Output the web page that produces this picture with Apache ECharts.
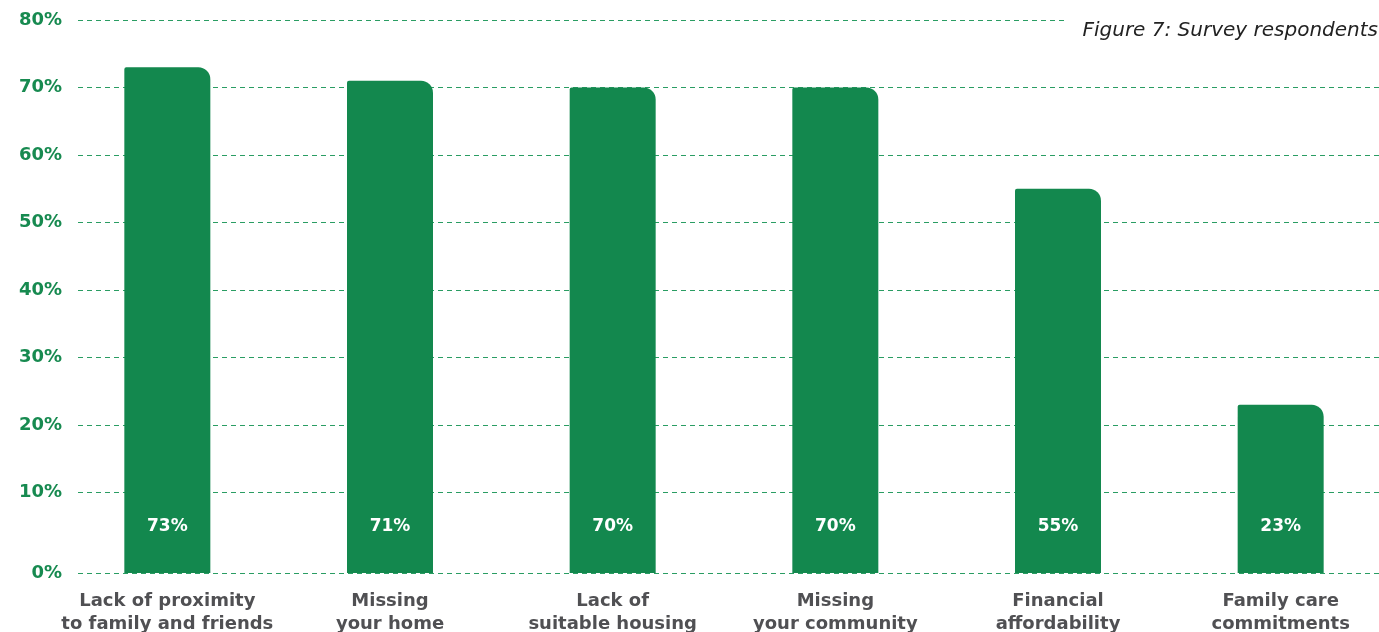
<!DOCTYPE html>
<html>
<head>
<meta charset="utf-8">
<script src="https://cdn.jsdelivr.net/npm/echarts@6/dist/echarts.min.js"></script>
<style>
html,body{margin:0;padding:0;background:#fff;}
#chart{width:1379px;height:632px;}
</style>
</head>
<body>
<div id="chart"></div>
<script>
const categories = ['Lack of proximity\nto family and friends', 'Missing\nyour home', 'Lack of\nsuitable housing', 'Missing\nyour community', 'Financial\naffordability', 'Family care\ncommitments'];
const values = [73, 71, 70, 70, 55, 23];
const gridTicks = [10, 20, 30, 40, 50, 60, 70, 80];
const titleText = 'Figure 7: Survey respondents';

const GREEN = '#13884e';
const AXIS_MIN = -1.93;

const lineData = [[{x: 78, yAxis: AXIS_MIN, name: '0%'}, {x: 1379, yAxis: AXIS_MIN}]].concat(
  gridTicks.map(v => [{x: 78, yAxis: v, name: v + '%'}, {x: 1379, yAxis: v}])
);

const chart = echarts.init(document.getElementById('chart'), null, {renderer: 'canvas'});
chart.setOption({
  animation: false,
  backgroundColor: '#ffffff',
  title: {
    text: titleText,
    right: 0,
    top: 19,
    padding: [2, 1, 2, 18],
    backgroundColor: '#ffffff',
    textStyle: {fontFamily: 'DejaVu Sans', fontStyle: 'italic', fontWeight: 'normal', fontSize: 20, color: '#222222'}
  },
  grid: {left: 56, width: 1336, top: 20, bottom: 59, containLabel: false, outerBoundsMode: 'none'},
  xAxis: {
    type: 'category',
    data: categories,
    axisLine: {show: false},
    axisTick: {show: false},
    axisLabel: {
      margin: 17,
      fontFamily: 'DejaVu Sans',
      fontWeight: 'bold',
      fontSize: 18,
      lineHeight: 23,
      color: '#505053',
      interval: 0
    }
  },
  yAxis: {
    type: 'value',
    min: AXIS_MIN,
    max: 80,
    startValue: AXIS_MIN,
    show: false,
    splitLine: {show: false}
  },
  series: [{
    type: 'bar',
    data: values,
    barWidth: 86,
    z: 3,
    itemStyle: {color: GREEN, borderRadius: [2, 12, 0, 0]},
    label: {
      show: true,
      position: 'insideBottom',
      distance: 38,
      formatter: p => p.value + '%',
      color: '#ffffff',
      fontFamily: 'DejaVu Sans',
      fontWeight: 'bold',
      fontSize: 17
    },
    markLine: {
      silent: true,
      z: 1,
      symbol: ['none', 'none'],
      animation: false,
      lineStyle: {color: '#2a9d63', type: [5, 4], width: 1},
      label: {
        show: true,
        position: 'start',
        distance: 16,
        formatter: p => p.name,
        color: '#178a50',
        fontFamily: 'DejaVu Sans',
        fontWeight: 'bold',
        fontSize: 18
      },
      emphasis: {disabled: true},
      data: lineData
    }
  }]
});
</script>
</body>
</html>
